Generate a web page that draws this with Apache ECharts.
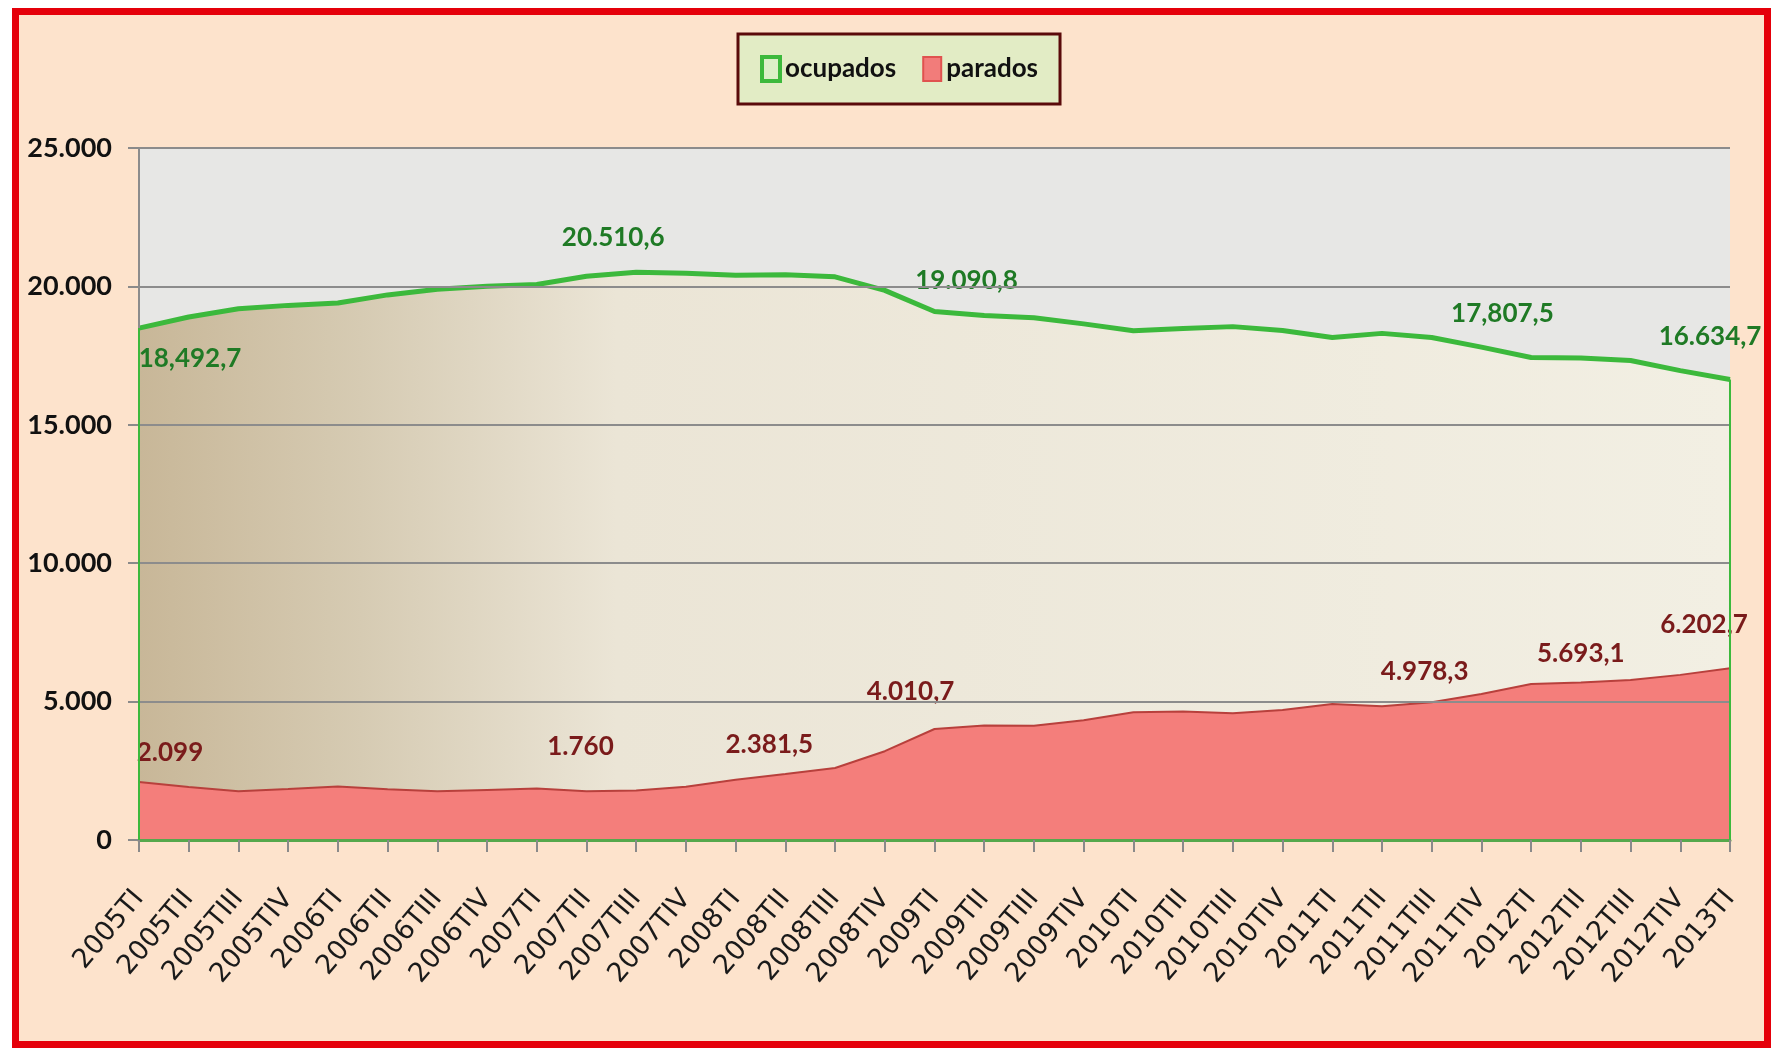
<!DOCTYPE html>
<html>
<head>
<meta charset="utf-8">
<script src="https://cdn.jsdelivr.net/npm/echarts@6/dist/echarts.min.js"></script>
<style>
  html, body { margin: 0; padding: 0; background: #fff; }
  #marco {
    position: absolute; left: 12px; top: 8px; width: 1759px; height: 1040px;
    box-sizing: border-box; border: 7px solid #e5000a; background: #fde3cc;
  }
  #grafico { position: absolute; left: 0; top: 0; width: 1773px; height: 1048px; }
</style>
</head>
<body>
<div id="marco"></div>
<div id="grafico"></div>
<script>
  // trimestres EPA
  var trimestres = ['2005TI','2005TII','2005TIII','2005TIV','2006TI','2006TII','2006TIII','2006TIV',
    '2007TI','2007TII','2007TIII','2007TIV','2008TI','2008TII','2008TIII','2008TIV',
    '2009TI','2009TII','2009TIII','2009TIV','2010TI','2010TII','2010TIII','2010TIV',
    '2011TI','2011TII','2011TIII','2011TIV','2012TI','2012TII','2012TIII','2012TIV','2013TI'];

  // miles de personas
  var ocupados = [18492.7, 18894.9, 19191.1, 19314.3, 19400.1, 19693.1, 19895.6, 20001.8,
    20069.2, 20367.3, 20510.6, 20476.9, 20402.3, 20425.1, 20346.3, 19856.8,
    19090.8, 18945.0, 18870.2, 18645.9, 18394.2, 18476.9, 18546.8, 18408.2,
    18151.7, 18303.0, 18156.3, 17807.5, 17433.2, 17417.3, 17320.3, 16957.1, 16634.7];

  var parados = [2099.0, 1912.5, 1765.0, 1841.3, 1935.8, 1837.0, 1765.0, 1810.6,
    1856.1, 1760.0, 1791.9, 1927.6, 2174.2, 2381.5, 2598.8, 3207.9,
    4010.7, 4137.5, 4123.3, 4326.5, 4612.7, 4645.5, 4574.7, 4696.6,
    4910.2, 4833.7, 4978.3, 5273.6, 5639.5, 5693.1, 5778.1, 5965.4, 6202.7];

  // etiquetas tal como aparecen
  var etiquetasOcupados = {0: '18,492,7', 10: '20.510,6', 16: '19.090,8', 27: '17,807,5', 32: '16.634,7'};
  var etiquetasParados = {0: '2.099', 9: '1.760', 13: '2.381,5', 16: '4.010,7', 26: '4.978,3', 29: '5.693,1', 32: '6.202,7'};

  var ejeY = ['0', '5.000', '10.000', '15.000', '20.000', '25.000'];

  // desplazamientos de las etiquetas (solo estilo)
  var despOcupados = {0: ['bottom', 51, 12], 10: ['top', -23, -17], 16: ['top', 32, -13], 27: ['top', 21, -15], 32: ['top', -20, -25]};
  var despParados = {0: ['top', 31, -11], 9: ['top', -6, -27], 13: ['top', -16, -11], 16: ['top', -24, -19], 26: ['top', -7, -13], 29: ['top', 0, -11], 32: ['top', -26, -26]};

  var fuenteNum = 'Lato';

  function serieDatos(valores, etiquetas, desp, color) {
    return valores.map(function (v, i) {
      if (etiquetas[i] === undefined) return v;
      var d = desp[i];
      return {
        value: v,
        label: {
          show: true, formatter: etiquetas[i], position: d[0], offset: [d[1], d[2]],
          color: color, fontFamily: fuenteNum, fontWeight: 'bold', fontSize: 26
        }
      };
    });
  }

  var last = trimestres.length - 1;
  var chart = echarts.init(document.getElementById('grafico'));
  chart.setOption({
    animation: false,
    backgroundColor: 'transparent',
    legend: {
      left: 738, top: 34,
      padding: [21, 22],
      itemGap: 26,
      itemWidth: 18, itemHeight: 24,
      backgroundColor: '#e2ecc5',
      borderColor: '#5a0a0a', borderWidth: 3,
      textStyle: { fontFamily: fuenteNum, fontWeight: 'bold', fontSize: 26, color: '#111' },
      data: [
        { name: 'ocupados', icon: 'rect', itemStyle: { color: '#dcefc8', borderColor: '#3cb93c', borderWidth: 4 } },
        { name: 'parados', icon: 'rect', itemStyle: { color: '#f27c7a', borderColor: '#e0524f', borderWidth: 2 } }
      ]
    },
    grid: {
      left: 139, right: 43, top: 148, bottom: 208,
      show: true, backgroundColor: '#e7e7e5', borderWidth: 0
    },
    xAxis: {
      type: 'category',
      data: trimestres,
      boundaryGap: false,
      z: 3,
      axisLine: { lineStyle: { color: '#56a84c', width: 3 } },
      axisTick: { show: true, length: 12, lineStyle: { color: '#8a8a8a', width: 2 } },
      axisLabel: {
        interval: 0, rotate: 50, margin: 54,
        fontFamily: 'DejaVu Sans', fontSize: 27, color: '#1a1a1a'
      },
      splitLine: { show: false }
    },
    yAxis: {
      type: 'value',
      min: 0, max: 25000, interval: 5000,
      z: 3,
      axisLine: { show: false },
      axisTick: { show: true, length: 11, lineStyle: { color: '#8a8a8a', width: 2 } },
      axisLabel: {
        margin: 27,
        fontFamily: fuenteNum, fontWeight: 'bold', fontSize: 27, color: '#111',
        formatter: function (v) { return ejeY[Math.round(v / 5000)]; }
      },
      splitLine: { lineStyle: { color: '#8c8c8c', width: 2 } }
    },
    series: [
      {
        name: 'ocupados',
        type: 'line',
        data: serieDatos(ocupados, etiquetasOcupados, despOcupados, '#1f7a25'),
        symbol: 'circle', symbolSize: 0, showSymbol: true,
        z: 2,
        lineStyle: { color: '#3cb93c', width: 5 },
        itemStyle: { color: '#3cb93c' },
        areaStyle: {
          opacity: 1,
          color: new echarts.graphic.LinearGradient(0, 0, 1, 0, [
            { offset: 0, color: '#c8b798' },
            { offset: 0.14, color: '#d6cbb3' },
            { offset: 0.3, color: '#ebe5d6' },
            { offset: 1, color: '#f2efe3' }
          ])
        },
        markLine: {
          silent: true, symbol: 'none', z: 6,
          label: { show: false },
          data: [
            [{ xAxis: trimestres[0], yAxis: 0, lineStyle: { color: '#3cb93c', width: 2, type: 'solid' } },
             { xAxis: trimestres[0], yAxis: ocupados[0] }],
            [{ xAxis: trimestres[last], yAxis: 0, lineStyle: { color: '#3cb93c', width: 2, type: 'solid' } },
             { xAxis: trimestres[last], yAxis: ocupados[last] }],
            [{ xAxis: trimestres[0], yAxis: ocupados[0], lineStyle: { color: '#8c8c8c', width: 2, type: 'solid' } },
             { xAxis: trimestres[0], yAxis: 25000 }]
          ]
        }
      },
      {
        name: 'parados',
        type: 'line',
        data: serieDatos(parados, etiquetasParados, despParados, '#7a1b1b'),
        symbol: 'circle', symbolSize: 0, showSymbol: true,
        z: 2,
        lineStyle: { color: '#b8403c', width: 2 },
        itemStyle: { color: '#f27c7a' },
        areaStyle: { color: '#f47e7b', opacity: 1 }
      }
    ]
  });
</script>
</body>
</html>
